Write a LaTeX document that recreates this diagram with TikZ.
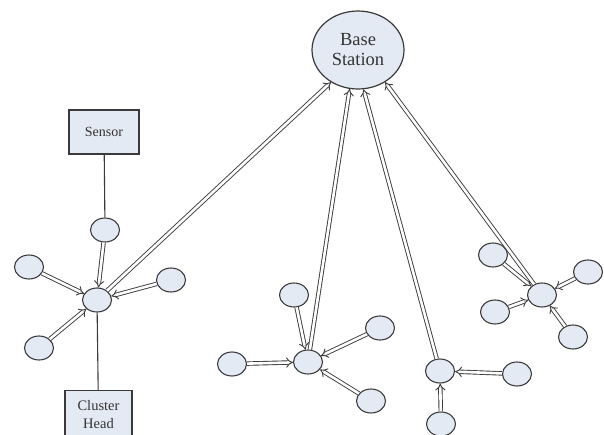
\documentclass[tikz,border=0pt]{standalone}
\usepackage{fontspec}
\setmainfont{Liberation Serif}
\usetikzlibrary{shapes.geometric,arrows.meta}
\definecolor{nodefill}{HTML}{E4EAF4}
\definecolor{edge}{HTML}{3A3A3A}
\begin{document}
\begin{tikzpicture}[x=1pt,y=-1pt,
  sn/.style={ellipse,draw=edge,line width=1.1pt,fill=nodefill,minimum width=29pt,minimum height=24pt,inner sep=0pt},
  bs/.style={ellipse,draw=edge,line width=1.2pt,fill=nodefill,minimum width=92pt,minimum height=78pt,inner sep=0pt,align=center,font=\fontsize{18.5}{20}\selectfont,text=black!80},
  boxn/.style={rectangle,draw=edge,line width=1.3pt,fill=nodefill,align=center,inner sep=0pt,text=black!80},
  dar/.style={draw=edge,line width=0.9pt,double=white,double distance=2.6pt,-{Implies[scale=1.1]}},
  pl/.style={draw=edge,line width=1.1pt}]
\useasboundingbox (0,0) rectangle (604,434);
% base station
\node[bs] (bs) at (358,50) {Base\\Station};
% sensor box
\node[boxn,minimum width=70pt,minimum height=44pt,font=\fontsize{14}{15}\selectfont] (sensor) at (104,132) {Sensor};
% cluster head box
\node[boxn,minimum width=67pt,minimum height=48pt,anchor=north,font=\fontsize{14.5}{18.5}\selectfont] (chbox) at (98.5,390) {Cluster\\Head};
% cluster 1
\node[sn] (c1) at (97,300) {};
\node[sn] (c1t) at (105,230) {};
\node[sn] (c1l) at (29,267) {};
\node[sn] (c1r) at (171,280) {};
\node[sn] (c1b) at (39,348) {};
% cluster 2
\node[sn] (c2) at (308,362) {};
\node[sn] (c2t) at (294,295) {};
\node[sn] (c2r) at (380,328) {};
\node[sn] (c2l) at (232,364) {};
\node[sn] (c2b) at (371,401) {};
% cluster 3
\node[sn] (c3) at (440,371) {};
\node[sn] (c3r) at (517,374) {};
\node[sn] (c3b) at (441,424) {};
% cluster 4
\node[sn] (c4) at (542,295) {};
\node[sn] (c4tl) at (493,255) {};
\node[sn] (c4bl) at (495,312) {};
\node[sn] (c4r) at (588,272) {};
\node[sn] (c4br) at (573,337) {};
% plain lines
\draw[pl] (sensor) -- (c1t);
\draw[pl] (c1) -- (chbox);
% leaf arrows
\foreach \a in {c1t,c1l,c1r,c1b} \draw[dar] (\a) -- (c1);
\foreach \a in {c2t,c2r,c2l,c2b} \draw[dar] (\a) -- (c2);
\foreach \a in {c3r,c3b} \draw[dar] (\a) -- (c3);
\foreach \a in {c4tl,c4bl,c4r,c4br} \draw[dar] (\a) -- (c4);
% to base station
\draw[dar] (c1) -- (bs.-130);
\draw[dar] (c2) -- (bs.-102);
\draw[dar] (c3) -- (bs.-82);
\draw[dar] (c4) -- (bs.-50);
\end{tikzpicture}
\end{document}
